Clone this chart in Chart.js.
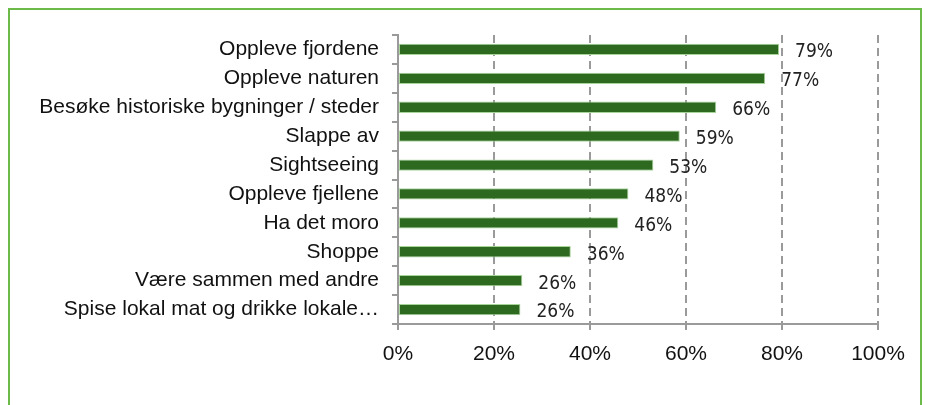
<!DOCTYPE html>
<html>
<head>
<meta charset="utf-8">
<script src="https://cdn.jsdelivr.net/npm/chart.js@4.4.1/dist/chart.umd.min.js"></script>
<style>
  body { margin: 0; background: #fff; }
  #wrap { position: relative; width: 928px; height: 405px; overflow: hidden; }
  #frame { position: absolute; left: 8px; top: 8px; width: 914px; height: 420px; border: 2px solid #6cbb4a; box-sizing: border-box; }
  canvas { position: absolute; left: 0; top: 0; }
</style>
</head>
<body>
<div id="wrap">
  <div id="frame"></div>
  <canvas id="chart" width="928" height="405"></canvas>
</div>
<script>
const categories = [
    'Oppleve fjordene',
    'Oppleve naturen',
    'Besøke historiske bygninger / steder',
    'Slappe av',
    'Sightseeing',
    'Oppleve fjellene',
    'Ha det moro',
    'Shoppe',
    'Være sammen med andre',
    'Spise lokal mat og drikke lokale…'
];
const shares = [79.4, 76.5, 66.3, 58.7, 53.2, 48.0, 45.9, 36.0, 25.9, 25.5];
const xTicks = [0, 20, 40, 60, 80, 100];

// draws the "79%" labels to the right of each bar
const valueLabels = {
    id: 'valueLabels',
    afterDatasetsDraw(chart) {
        const ctx = chart.ctx;
        const meta = chart.getDatasetMeta(0);
        ctx.save();
        ctx.font = '19px "DejaVu Sans Condensed", "Liberation Sans", sans-serif';
        ctx.fillStyle = '#222';
        ctx.textAlign = 'left';
        ctx.textBaseline = 'middle';
        meta.data.forEach((bar, i) => {
            ctx.fillText(Math.round(shares[i]) + '%', bar.x + 16, bar.y + 3);
        });
        ctx.restore();
    }
};

const ctx = document.getElementById('chart').getContext('2d');
const activityChart = new Chart(ctx, {
    type: 'bar',
    data: {
        labels: categories,
        datasets: [{
            data: shares,
            backgroundColor: '#2d6a1f',
            borderColor: '#a8d49a',
            borderWidth: 1,
            borderSkipped: false,
            barPercentage: 0.78,
            categoryPercentage: 0.5
        }]
    },
    options: {
        indexAxis: 'y',
        responsive: false,
        animation: false,
        layout: { padding: { left: 0, right: 50, top: 35, bottom: 27 } },
        plugins: {
            legend: { display: false },
            tooltip: { enabled: false }
        },
        scales: {
            x: {
                min: 0,
                max: 100,
                afterBuildTicks: scale => { scale.ticks = xTicks.map(v => ({ value: v })); },
                afterFit: scale => { scale.height = 54; },
                ticks: {
                    padding: 12,
                    color: '#111',
                    font: { family: '"Liberation Sans", Arial, sans-serif', size: 21 },
                    callback: v => v + '%'
                },
                grid: {
                    color: '#9a9a9a',
                    lineWidth: 2,
                    tickLength: 6,
                    tickColor: '#9a9a9a',
                    tickBorderDash: [],
                    tickWidth: 2
                },
                border: { display: true, color: '#9a9a9a', width: 2, dash: [8, 5] }
            },
            y: {
                afterFit: scale => { scale.width = 398; },
                ticks: {
                    padding: 13,
                    color: '#111',
                    autoSkip: false,
                    font: { family: '"Liberation Sans", Arial, sans-serif', size: 21 }
                },
                grid: {
                    drawOnChartArea: false,
                    tickLength: 6,
                    color: '#9a9a9a',
                    lineWidth: 2
                },
                border: { display: true, color: '#9a9a9a', width: 2 }
            }
        }
    },
    plugins: [valueLabels]
});
</script>
</body>
</html>
